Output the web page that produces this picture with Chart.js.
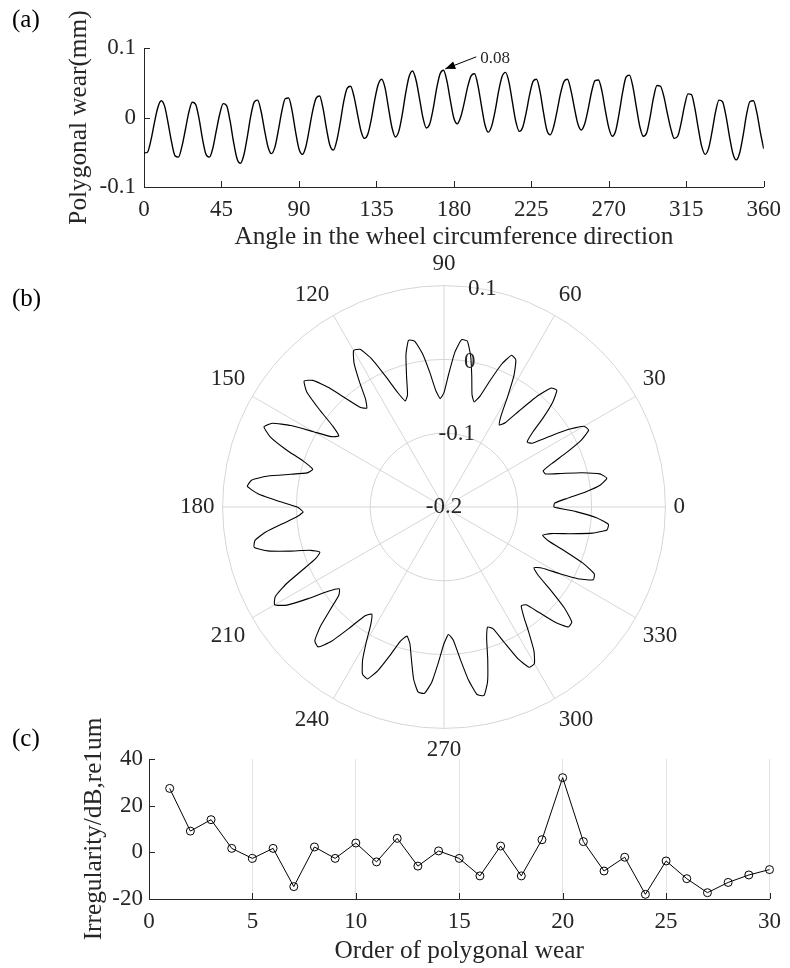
<!DOCTYPE html>
<html>
<head>
<meta charset="utf-8">
<script src="https://cdn.jsdelivr.net/npm/chart.js@4.4.1/dist/chart.umd.min.js"></script>
<style>
  body { margin: 0; background: #fff; }
  #wrap { position: relative; width: 790px; height: 968px; overflow: hidden; }
  canvas { position: absolute; left: 0; }
  .tag { position: absolute; left: 12px; font: 25px 'Liberation Serif', 'Times New Roman', serif; color: #000; line-height: 25px; }
</style>
</head>
<body>
<div id="wrap">
  <canvas id="wearChart" width="790" height="260" style="top:0;width:790px;height:260px"></canvas>
  <canvas id="polarChart" width="790" height="514" style="top:251px;width:790px;height:514px"></canvas>
  <canvas id="orderChart" width="790" height="268" style="top:700px;width:790px;height:268px"></canvas>
  <div class="tag" style="top:6px">(a)</div>
  <div class="tag" style="top:285px">(b)</div>
  <div class="tag" style="top:725px">(c)</div>
</div>
<script>
// angle around the wheel (deg), every 2 degrees
const angles = [0, 2, 4, 6, 8, 10, 12, 14, 16, 18, 20, 22, 24, 26, 28, 30, 32, 34, 36, 38,
  40, 42, 44, 46, 48, 50, 52, 54, 56, 58, 60, 62, 64, 66, 68, 70, 72, 74, 76, 78,
  80, 82, 84, 86, 88, 90, 92, 94, 96, 98, 100, 102, 104, 106, 108, 110, 112, 114, 116, 118,
  120, 122, 124, 126, 128, 130, 132, 134, 136, 138, 140, 142, 144, 146, 148, 150, 152, 154, 156, 158,
  160, 162, 164, 166, 168, 170, 172, 174, 176, 178, 180, 182, 184, 186, 188, 190, 192, 194, 196, 198,
  200, 202, 204, 206, 208, 210, 212, 214, 216, 218, 220, 222, 224, 226, 228, 230, 232, 234, 236, 238,
  240, 242, 244, 246, 248, 250, 252, 254, 256, 258, 260, 262, 264, 266, 268, 270, 272, 274, 276, 278,
  280, 282, 284, 286, 288, 290, 292, 294, 296, 298, 300, 302, 304, 306, 308, 310, 312, 314, 316, 318,
  320, 322, 324, 326, 328, 330, 332, 334, 336, 338, 340, 342, 344, 346, 348, 350, 352, 354, 356, 358, 360]

// polygonal wear (mm)
const wear = [-0.051, -0.050, -0.033, -0.008, 0.014, 0.024, 0.016, -0.008, -0.035, -0.055,
  -0.057, -0.042, -0.018, 0.007, 0.022, 0.019, -0.002, -0.031, -0.053, -0.057,
  -0.044, -0.019, 0.005, 0.020, 0.017, -0.005, -0.035, -0.059, -0.066, -0.054,
  -0.028, 0.002, 0.022, 0.025, 0.009, -0.018, -0.042, -0.052, -0.043, -0.019,
  0.008, 0.027, 0.028, 0.010, -0.020, -0.045, -0.053, -0.042, -0.017, 0.010,
  0.028, 0.031, 0.013, -0.016, -0.040, -0.047, -0.033, -0.007, 0.023, 0.042,
  0.045, 0.030, 0.005, -0.019, -0.030, -0.024, -0.003, 0.025, 0.047, 0.055,
  0.043, 0.014, -0.014, -0.028, -0.020, 0.004, 0.035, 0.059, 0.067, 0.054,
  0.028, 0.000, -0.015, -0.009, 0.013, 0.042, 0.063, 0.068, 0.052, 0.024,
  -0.001, -0.009, 0.001, 0.021, 0.044, 0.060, 0.063, 0.046, 0.017, -0.010,
  -0.021, -0.012, 0.010, 0.038, 0.059, 0.065, 0.051, 0.022, -0.006, -0.020,
  -0.014, 0.007, 0.033, 0.052, 0.055, 0.038, 0.008, -0.018, -0.025, -0.013,
  0.010, 0.035, 0.052, 0.055, 0.039, 0.014, -0.009, -0.018, -0.009, 0.012,
  0.037, 0.053, 0.054, 0.038, 0.010, -0.015, -0.027, -0.019, 0.006, 0.036,
  0.058, 0.061, 0.044, 0.015, -0.013, -0.027, -0.022, 0.001, 0.029, 0.046,
  0.045, 0.030, 0.006, -0.016, -0.030, -0.027, -0.008, 0.017, 0.034, 0.033,
  0.013, -0.016, -0.042, -0.053, -0.044, -0.020, 0.008, 0.025, 0.023, 0.003,
  -0.026, -0.051, -0.061, -0.051, -0.026, 0.004, 0.023, 0.024, 0.007, -0.021, -0.045]

const peakNote = '0.08'
const peakAt = [175, 0.070]

const radialTicks = [-0.2, -0.1, 0, 0.1]
const radialTickLabels = ['-0.2', '-0.1', '0', '0.1']

// panel (c)
const orders = [1, 2, 3, 4, 5, 6, 7, 8, 9, 10, 11, 12, 13, 14, 15,
  16, 17, 18, 19, 20, 21, 22, 23, 24, 25, 26, 27, 28, 29, 30]
const irregularity = [27.4, 9.1, 14.0, 1.7, -2.6, 1.7, -14.7, 2.3, -2.6, 4.0,
  -4.1, 6.0, -5.9, 0.6, -2.6, -10.1, 2.7, -10.1, 5.4, 32.0,
  4.6, -8.0, -2.1, -18.0, -3.7, -11.3, -17.3, -12.9, -9.7, -7.4]

Chart.defaults.font.family = "'Liberation Serif', 'Times New Roman', serif"
Chart.defaults.color = '#262626'

const axisColor = '#262626'
const tickFont = { size: 23 }
const titleFont = { size: 25.3 }

// matlab style ticks that point into the plot
const innerTicks = {
    id: 'innerTicks',
    afterDraw(chart) {
        const { ctx, chartArea, scales } = chart
        ctx.save()
        ctx.strokeStyle = axisColor
        ctx.lineWidth = 1
        scales.x.ticks.forEach(t => {
            const px = Math.round(scales.x.getPixelForValue(t.value)) + 0.5
            ctx.beginPath()
            ctx.moveTo(px, chartArea.bottom)
            ctx.lineTo(px, chartArea.bottom - 6)
            ctx.stroke()
        })
        scales.y.ticks.forEach(t => {
            const py = Math.round(scales.y.getPixelForValue(t.value)) + 0.5
            ctx.beginPath()
            ctx.moveTo(chartArea.left, py)
            ctx.lineTo(chartArea.left + 6, py)
            ctx.stroke()
        })
        ctx.restore()
    }
}

// arrow + text pointing at the highest peak
const peakArrow = {
    id: 'peakArrow',
    afterDatasetsDraw(chart) {
        const { ctx, scales: { x, y } } = chart
        const tx = x.getPixelForValue(peakAt[0])
        const ty = y.getPixelForValue(peakAt[1])
        const sx = tx + 31, sy = ty - 12
        const a = Math.atan2(ty - sy, tx - sx)
        ctx.save()
        ctx.strokeStyle = '#000'
        ctx.fillStyle = '#000'
        ctx.lineWidth = 1
        ctx.beginPath()
        ctx.moveTo(sx, sy)
        ctx.lineTo(tx, ty)
        ctx.stroke()
        ctx.beginPath()
        ctx.moveTo(tx, ty)
        ctx.lineTo(tx - 10 * Math.cos(a) + 4 * Math.sin(a), ty - 10 * Math.sin(a) - 4 * Math.cos(a))
        ctx.lineTo(tx - 10 * Math.cos(a) - 4 * Math.sin(a), ty - 10 * Math.sin(a) + 4 * Math.cos(a))
        ctx.closePath()
        ctx.fill()
        ctx.font = "17px 'Liberation Serif'"
        ctx.fillStyle = axisColor
        ctx.textBaseline = 'middle'
        ctx.fillText(peakNote, sx + 4, sy + 2)
        ctx.restore()
    }
}

// radial tick labels along the 80 degree ray
const polarTickLabels = {
    id: 'polarTickLabels',
    afterDraw(chart) {
        const r = chart.scales.r
        const ctx = chart.ctx
        const ang = 80 * Math.PI / 180
        ctx.save()
        ctx.font = "23px 'Liberation Serif'"
        ctx.fillStyle = axisColor
        ctx.textAlign = 'center'
        ctx.textBaseline = 'middle'
        radialTicks.forEach((v, i) => {
            const d = r.getDistanceFromCenterForValue(v)
            ctx.fillText(radialTickLabels[i], r.xCenter + d * Math.cos(ang), r.yCenter - d * Math.sin(ang))
        })
        ctx.restore()
    }
}

// (a) wear along the circumference
new Chart(document.getElementById('wearChart'), {
    type: 'line',
    data: {
        datasets: [{
            data: angles.map((a, i) => ({ x: a, y: wear[i] })),
            borderColor: '#000',
            borderWidth: 1.4,
            pointRadius: 0,
            cubicInterpolationMode: 'monotone'
        }]
    },
    options: {
        responsive: false,
        animation: false,
        layout: { padding: { top: 48, right: 23, bottom: 0, left: 0 } },
        plugins: { legend: { display: false }, tooltip: { enabled: false } },
        scales: {
            x: {
                type: 'linear', min: 0, max: 360,
                afterFit: s => { s.height = 73 },
                ticks: { stepSize: 45, padding: 9, maxRotation: 0, font: tickFont },
                grid: { drawOnChartArea: false, drawTicks: false },
                border: { color: axisColor },
                title: { display: true, text: 'Angle in the wheel circumference direction', font: titleFont, padding: { top: 0, bottom: 7 } }
            },
            y: {
                min: -0.1, max: 0.1,
                afterFit: s => { s.width = 144 },
                ticks: { stepSize: 0.1, padding: 8, font: tickFont },
                grid: { drawOnChartArea: false, drawTicks: false },
                border: { color: axisColor },
                title: { display: true, text: 'Polygonal wear(mm)', font: titleFont, padding: { top: 64, bottom: 0 } }
            }
        }
    },
    plugins: [innerTicks, peakArrow]
})

// (b) same data in polar form, 0 deg on the right, counter clockwise
const polarLabels = []
const polarValues = []
const n = angles.length - 1
for (let i = 0; i < n; i++) {
    const k = (n - i) % n
    polarLabels.push(String(angles[k] % 360))
    polarValues.push(wear[k])
}

new Chart(document.getElementById('polarChart'), {
    type: 'radar',
    data: {
        labels: polarLabels,
        datasets: [{
            data: polarValues,
            borderColor: '#000',
            borderWidth: 1.1,
            pointRadius: 0,
            fill: false,
            tension: 0.15
        }]
    },
    options: {
        responsive: false,
        animation: false,
        layout: { padding: { left: 98 } },
        plugins: { legend: { display: false }, tooltip: { enabled: false } },
        scales: {
            r: {
                min: -0.2, max: 0.1,
                startAngle: 90,
                beginAtZero: false,
                ticks: { display: false, stepSize: 0.1 },
                grid: { circular: true, color: '#d6d6d6' },
                angleLines: { color: c => c.index % 15 === 0 ? '#d6d6d6' : 'rgba(0,0,0,0)' },
                pointLabels: {
                    padding: 8,
                    font: tickFont,
                    color: axisColor,
                    callback: (label, i) => i % 15 === 0 ? label : ''
                }
            }
        }
    },
    plugins: [polarTickLabels]
})

// (c) irregularity spectrum
new Chart(document.getElementById('orderChart'), {
    type: 'line',
    data: {
        datasets: [{
            data: orders.map((o, i) => ({ x: o, y: irregularity[i] })),
            borderColor: '#000',
            borderWidth: 1,
            pointRadius: 4,
            pointBorderColor: '#000',
            pointBorderWidth: 1,
            pointBackgroundColor: 'rgba(0,0,0,0)',
            tension: 0,
            clip: false
        }]
    },
    options: {
        responsive: false,
        animation: false,
        layout: { padding: { top: 59, right: 14, bottom: 0, left: 0 } },
        plugins: { legend: { display: false }, tooltip: { enabled: false } },
        scales: {
            x: {
                type: 'linear', min: 0, max: 30,
                afterFit: s => { s.height = 69 },
                ticks: { stepSize: 5, padding: 9, maxRotation: 0, font: tickFont },
                grid: { color: '#e3e3e3', drawTicks: false },
                border: { color: axisColor },
                title: { display: true, text: 'Order of polygonal wear', font: titleFont, padding: { top: 0, bottom: 1 } }
            },
            y: {
                min: -20, max: 40,
                afterFit: s => { s.width = 149 },
                ticks: { stepSize: 20, padding: 6, font: tickFont },
                grid: { drawOnChartArea: false, drawTicks: false },
                border: { color: axisColor },
                title: { display: true, text: 'Irregularity/dB,re1um', font: titleFont, padding: { top: 79, bottom: 0 } }
            }
        }
    },
    plugins: [innerTicks]
})
</script>
</body>
</html>
